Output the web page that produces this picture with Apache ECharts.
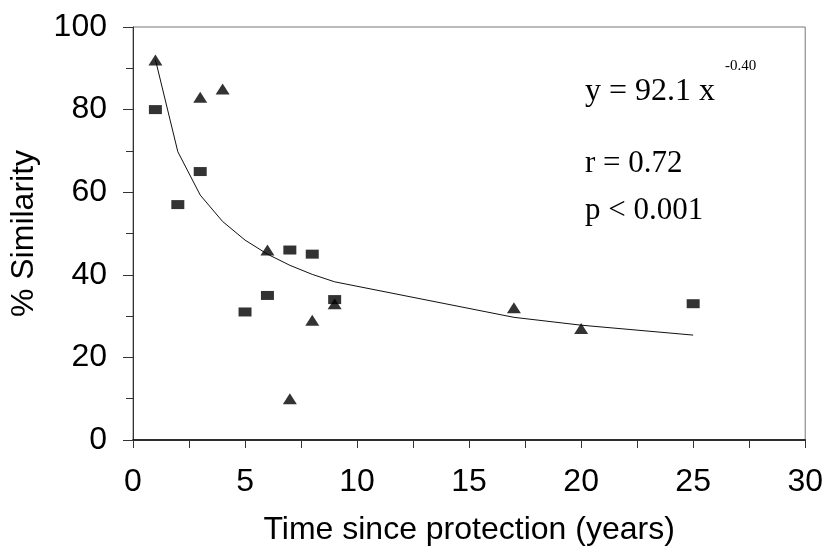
<!DOCTYPE html>
<html>
<head>
<meta charset="utf-8">
<script src="https://cdn.jsdelivr.net/npm/echarts@6/dist/echarts.min.js"></script>
<style>
html,body{margin:0;padding:0;background:#fff;}
#chart{width:826px;height:551px;}
</style>
</head>
<body>
<div id="chart"></div>
<script>
// Triangles (x = years, y = % similarity)
var triX = [1, 3, 4, 6, 7, 8, 9, 17, 20];
var triY = [92, 83, 85, 46, 10, 29, 33, 32, 27];
// Squares
var sqX = [1, 2, 3, 5, 6, 7, 8, 9, 25];
var sqY = [80, 57, 65, 31, 35, 46, 45, 34, 33];
// Fitted curve (y = 92.1 x^-0.40) read at the plotted x positions
var fitX = [1, 2, 3, 4, 5, 6, 7, 8, 9, 17, 20, 25];
var fitY = [92.1, 69.8, 59.3, 52.9, 48.4, 45.0, 42.3, 40.1, 38.3, 29.7, 27.8, 25.4];
// Axis ticks
var xTicks = [0, 5, 10, 15, 20, 25, 30];
var yTicks = [0, 20, 40, 60, 80, 100];

function zip(a, b) { return a.map(function (v, i) { return [v, b[i]]; }); }

var chart = echarts.init(document.getElementById('chart'));
var sans = '"Liberation Sans", Arial, sans-serif';
var serif = '"Liberation Serif", "Times New Roman", serif';
chart.setOption({
  animation: false,
  backgroundColor: '#fff',
  grid: { left: 132, right: 15, top: 27, bottom: 98, show: true, borderColor: '#777', borderWidth: 1, backgroundColor: 'transparent' },
  xAxis: {
    type: 'value', min: xTicks[0], max: xTicks[xTicks.length - 1], interval: 5,
    name: 'Time since protection (years)', nameLocation: 'middle', nameGap: 74,
    nameTextStyle: { fontFamily: sans, fontSize: 32, color: '#000' },
    axisLine: { show: true, onZero: false, lineStyle: { color: '#000', width: 1.5 } },
    axisTick: { show: true, inside: false, length: 8, lineStyle: { color: '#333' } },
    minorTick: { show: true, splitNumber: 2, length: 8, lineStyle: { color: '#333' } },
    axisLabel: { fontFamily: sans, fontSize: 32, color: '#000', margin: 26 },
    splitLine: { show: false }
  },
  yAxis: {
    type: 'value', min: yTicks[0], max: yTicks[yTicks.length - 1], interval: 20,
    name: '% Similarity', nameLocation: 'middle', nameGap: 93,
    nameTextStyle: { fontFamily: sans, fontSize: 32, color: '#000' },
    axisLine: { show: true, onZero: false, lineStyle: { color: '#333', width: 1 } },
    axisTick: { show: true, inside: false, length: 10, lineStyle: { color: '#333' } },
    minorTick: { show: true, splitNumber: 2, length: 7, lineStyle: { color: '#333' } },
    axisLabel: { fontFamily: sans, fontSize: 32, color: '#000', margin: 26 },
    splitLine: { show: false }
  },
  series: [
    {
      type: 'line', data: zip(fitX, fitY), symbol: 'none', smooth: false,
      lineStyle: { color: '#111', width: 1 }, z: 2
    },
    {
      type: 'scatter', data: zip(triX, triY), symbol: 'triangle', symbolSize: [14, 11],
      itemStyle: { color: '#000' }, z: 3
    },
    {
      type: 'scatter', data: zip(sqX, sqY), symbol: 'rect', symbolSize: [13, 9],
      itemStyle: { color: '#000' }, z: 3
    }
  ],
  graphic: [
    { type: 'text', left: 585, top: 76, style: { text: 'y = 92.1 x', font: '32px ' + serif, fill: '#000' } },
    { type: 'text', left: 725, top: 59, style: { text: '-0.40', font: '15px ' + serif, fill: '#000' } },
    { type: 'text', left: 585, top: 148, style: { text: 'r = 0.72', font: '31px ' + serif, fill: '#000' } },
    { type: 'text', left: 585, top: 195, style: { text: 'p < 0.001', font: '31px ' + serif, fill: '#000' } }
  ]
});
</script>
</body>
</html>
